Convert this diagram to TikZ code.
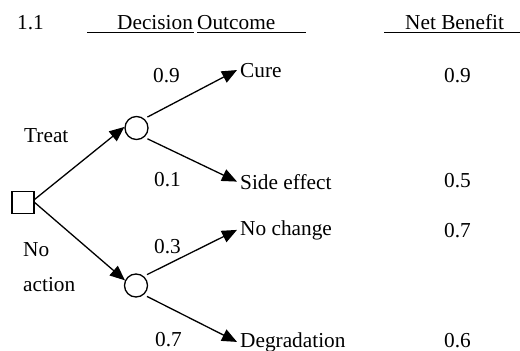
\documentclass[tikz,border=0pt]{standalone}
\usepackage{fontspec}
\setmainfont{Liberation Serif}
\usetikzlibrary{arrows.meta}
\begin{document}
\begin{tikzpicture}[x=1pt,y=-1pt,
  every node/.style={font=\fontsize{21.3}{24}\selectfont},
  lbl/.style={anchor=base west,inner sep=0pt},
  outc/.style={anchor=base west,inner sep=3pt},
  chance/.style={circle,draw,line width=1.3pt,minimum size=23pt,inner sep=0pt},
  decis/.style={rectangle,draw,line width=1.3pt,minimum size=22pt,inner sep=0pt},
  arr/.style={line width=1.3pt,-{Triangle[length=15pt,width=12.5pt]}},
  ul/.style={line width=1.3pt}]
\useasboundingbox (0,0) rectangle (520,351);
% header
\node[lbl] (h11) at (17,29) {1.1};
\node[lbl] (hdec) at (117,29) {Decision};
\node[lbl] (hout) at (197,29) {Outcome};
\node[lbl] (hnet) at (405,29) {Net Benefit};
\draw[ul] (87,32.5) -- (194,32.5);
\draw[ul] (197,32.5) -- (306,32.5);
\draw[ul] (384,32.5) -- (520,32.5);
% tree nodes
\node[decis] (sq) at (23,202.5) {};
\node[chance] (c1) at (136.5,128) {};
\node[chance] (c2) at (136,285.5) {};
% outcomes
\node[outc] (cure) at (237,77) {Cure};
\node[outc] (side) at (237,189) {Side effect};
\node[outc] (noch) at (237,235) {No change};
\node[outc] (degr) at (237,347) {Degradation};
% labels
\node[lbl] (treat) at (24,142) {Treat};
\node[lbl] (no) at (23,256) {No};
\node[lbl] (action) at (23,291) {action};
\node[lbl] (p1) at (153,82) {0.9};
\node[lbl] (p2) at (154,186) {0.1};
\node[lbl] (p3) at (154,253) {0.3};
\node[lbl] (p4) at (155,346) {0.7};
\node[lbl] (n1) at (444,82) {0.9};
\node[lbl] (n2) at (444,187) {0.5};
\node[lbl] (n3) at (444,237) {0.7};
\node[lbl] (n4) at (444,347) {0.6};
% connectors
\draw[arr] (sq.15) -- (c1.175);
\draw[arr] (sq.east) -- (c2.155);
\draw[arr,shorten <=3.5pt] (c1.50) -- (cure.west);
\draw[arr,shorten <=3.5pt] (c1.-50) -- (side.west);
\draw[arr,shorten <=3.5pt] (c2.50) -- (noch.west);
\draw[arr,shorten <=3.5pt] (c2.-50) -- (degr.west);
\end{tikzpicture}
\end{document}
